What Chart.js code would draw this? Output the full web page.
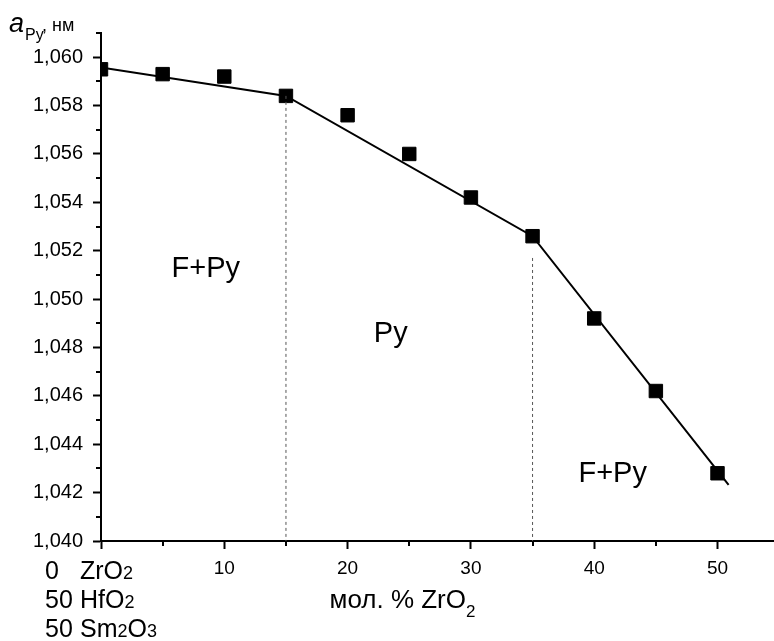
<!DOCTYPE html>
<html><head><meta charset="utf-8">
<script src="https://cdn.jsdelivr.net/npm/chart.js@4/dist/chart.umd.min.js"></script>
<style>html,body{margin:0;padding:0;background:#fff;overflow:hidden;}canvas{display:block;}</style>
</head><body>
<canvas id="c" width="774" height="641"></canvas>
<script>
// ---- data ----
const compositionZrO2 = [0, 5, 10, 15, 20, 25, 30, 35, 40, 45, 50];
const latticeParam   = [1.0595, 1.0593, 1.0592, 1.0584, 1.0576, 1.0560, 1.0542, 1.0526, 1.0492, 1.0462, 1.0428];
const fitX = [0, 15, 35, 50.9];
const fitY = [1.05957, 1.0584, 1.0526, 1.04232];
const boundaryX    = [15, 35];
const boundaryTopY = [1.0584, 1.0517];
const phaseLabels = ['F+Py', 'Py', 'F+Py'];
const phaseLabelX = [8.5, 23.5, 41.5];
const phaseLabelY = [1.05091, 1.04824, 1.04245];
const xLabeledTicks = [10, 20, 30, 40, 50];
const compositionRows = [
  [['0', 0]],
  [['50', 0]],
  [['50', 0]]
];
const compositionFormulas = [
  [['ZrO', 0], ['2', 1]],
  [['HfO', 0], ['2', 1]],
  [['Sm', 0], ['2', 1], ['O', 0], ['3', 1]]
];
const xTitleParts = [['мол. % ZrO', 0], ['2', 1]];

const FONT = '"Liberation Sans", Arial, sans-serif';
Chart.defaults.font.family = FONT;
Chart.defaults.color = '#000';

const isOnStep = (v, s) => Math.abs(v / s - Math.round(v / s)) < 1e-6;
const isMajorX = v => isOnStep(v, 10);
const isMinorX = v => isOnStep(v, 5) && !isMajorX(v);
const isMajorY = v => Math.round(v * 1000) % 2 === 0;

function drawParts(ctx, parts, x, y, big, small, subDrop) {
  let cx = x;
  for (const [t, sub] of parts) {
    ctx.font = (sub ? small : big) + 'px ' + FONT;
    ctx.fillText(t, cx, y + (sub ? subDrop : 0));
    cx += ctx.measureText(t).width;
  }
  return cx - x;
}
function partsWidth(ctx, parts, big, small) {
  let w = 0;
  for (const [t, sub] of parts) { ctx.font = (sub ? small : big) + 'px ' + FONT; w += ctx.measureText(t).width; }
  return w;
}

const decor = {
  id: 'decor',
  afterDraw(chart) {
    const ctx = chart.ctx, xs = chart.scales.x, ys = chart.scales.y;
    ctx.save();
    ctx.strokeStyle = '#000'; ctx.lineWidth = 2;
    // minor ticks
    xs.ticks.forEach(t => {
      if (isMinorX(t.value)) {
        const px = Math.round(xs.getPixelForValue(t.value));
        ctx.beginPath(); ctx.moveTo(px, ys.bottom); ctx.lineTo(px, ys.bottom + 5); ctx.stroke();
      }
    });
    ys.ticks.forEach(t => {
      if (!isMajorY(t.value)) {
        const py = Math.round(ys.getPixelForValue(t.value));
        ctx.beginPath(); ctx.moveTo(xs.left, py); ctx.lineTo(xs.left - 5, py); ctx.stroke();
      }
    });
    // phase labels
    ctx.fillStyle = '#000'; ctx.textBaseline = 'alphabetic'; ctx.textAlign = 'center';
    ctx.font = '29px ' + FONT;
    phaseLabels.forEach((t, i) => ctx.fillText(t, xs.getPixelForValue(phaseLabelX[i]), ys.getPixelForValue(phaseLabelY[i])));
    // composition block under origin
    ctx.textAlign = 'left';
    const x0 = xs.getPixelForValue(0);
    const base = ys.bottom;
    const rowsY = [38, 67, 96];
    compositionRows.forEach((r, i) => {
      drawParts(ctx, r, x0 - 56, base + rowsY[i], 25, 18, 0);
      drawParts(ctx, compositionFormulas[i], x0 - 21, base + rowsY[i], 25, 18, 0);
    });
    // x title
    const w = partsWidth(ctx, xTitleParts, 26, 17);
    drawParts(ctx, xTitleParts, xs.getPixelForValue(24.45) - w / 2, base + 67, 26, 17, 9);
    // y title
    ctx.font = 'italic 27px ' + FONT;
    ctx.fillText('a', 9, 32);
    ctx.font = '16px ' + FONT;
    ctx.fillText('Py', 25, 40);
    ctx.font = '18px ' + FONT;
    ctx.fillText(', нм', 42, 31);
    ctx.restore();
  }
};

const fitData = fitX.map((x, i) => ({ x, y: fitY[i] }));
const pointsData = compositionZrO2.map((x, i) => ({ x, y: latticeParam[i] }));
const boundarySets = boundaryX.map((x, i) => ({
  type: 'line',
  data: [{ x, y: boundaryTopY[i] }, { x, y: 1.040 }],
  borderColor: '#555', borderWidth: 1, borderDash: [3, 3],
  pointRadius: 0, showLine: true, fill: false
}));

new Chart(document.getElementById('c'), {
  type: 'scatter',
  data: {
    datasets: [
      ...boundarySets,
      { type: 'line', data: fitData, borderColor: '#000', borderWidth: 2, pointRadius: 0, fill: false, tension: 0, order: 1 },
      { data: pointsData, pointStyle: 'rect', pointRadius: 9.5, pointHoverRadius: 9.5,
        backgroundColor: '#000', borderColor: '#000', borderWidth: 1, showLine: false, order: 0 }
    ]
  },
  options: {
    responsive: false,
    animation: false,
    devicePixelRatio: 1,
    layout: { autoPadding: false, padding: { top: 33, right: 1, left: 0, bottom: 0 } },
    plugins: { legend: { display: false }, tooltip: { enabled: false } },
    scales: {
      x: {
        type: 'linear', min: 0, max: 54.5,
        afterFit: s => { s.height = 100; s.paddingLeft = 0; s.paddingRight = 0; },
        border: { display: true, color: '#000', width: 2 },
        grid: { display: true, drawOnChartArea: false, drawTicks: true, tickLength: 8, tickWidth: 2,
                tickColor: c => (c.tick && isMajorX(c.tick.value)) ? '#000' : 'rgba(0,0,0,0)' },
        ticks: { stepSize: 5, includeBounds: false, autoSkip: false, maxRotation: 0, padding: 8,
                 font: { size: 19 }, color: '#000',
                 callback: v => xLabeledTicks.includes(v) ? String(v) : '' }
      },
      y: {
        type: 'linear', min: 1.040, max: 1.061,
        afterFit: s => { s.width = 101; s.paddingTop = 0; s.paddingBottom = 0; },
        border: { display: true, color: '#000', width: 2 },
        grid: { display: true, drawOnChartArea: false, drawTicks: true, tickLength: 8, tickWidth: 2,
                tickColor: c => (c.tick && isMajorY(c.tick.value)) ? '#000' : 'rgba(0,0,0,0)' },
        ticks: { stepSize: 0.001, autoSkip: false, padding: 10, font: { size: 20 }, color: '#000',
                 callback: v => isMajorY(v) ? v.toFixed(3).replace('.', ',') : '' }
      }
    }
  },
  plugins: [decor]
});
</script>
</body></html>
